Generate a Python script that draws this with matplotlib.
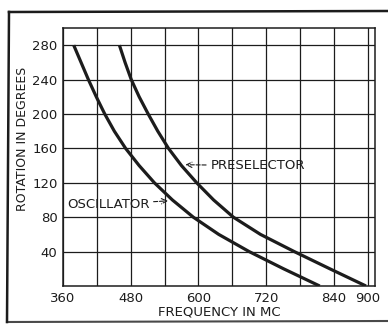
import numpy as np
import matplotlib
matplotlib.use('Agg')
import matplotlib.pyplot as plt
from matplotlib.lines import Line2D

# rotation in degrees, frequency in MC
rotation = [280, 260, 240, 220, 200, 180, 160, 140, 120, 100, 80, 60, 40, 20, 0]
oscillator = [379, 392, 405, 419, 434, 451, 471, 495, 522, 554, 591, 636, 690, 751, 815]
preselector = [460, 470, 481, 495, 511, 528, 547, 570, 597, 627, 662, 710, 770, 833, 897]

xticks = [360, 420, 480, 540, 600, 660, 720, 780, 840, 900]
xlabels = ['360', '', '480', '', '600', '', '720', '', '840', '900']
yticks = [40, 80, 120, 160, 200, 240, 280]

ink = '#1c1c1c'
plt.rcParams['font.family'] = ['DejaVu Sans']

fig = plt.figure(figsize=(3.88, 3.27), dpi=100)
ax = fig.add_axes([63 / 388, 1 - 286 / 327, 312 / 388, 258 / 327])

ax.plot(oscillator, rotation, color=ink, lw=2.3, solid_capstyle='butt',
        solid_joinstyle='round')
ax.plot(preselector, rotation, color=ink, lw=2.3, solid_capstyle='butt',
        solid_joinstyle='round')

ax.set_xlim(360, 913)
ax.set_ylim(0, 300)
ax.set_xticks(xticks)
ax.set_xticklabels(xlabels)
ax.set_yticks(yticks)
ax.tick_params(length=0, labelsize=9.5, colors=ink, pad=4)
ax.grid(True, color=ink, lw=0.9)
for s in ax.spines.values():
    s.set_color(ink)
    s.set_linewidth(1.1)

ax.set_xlabel('FREQUENCY IN MC', fontsize=9.5, color=ink, labelpad=1)
fig.text(23 / 388, 1 - 139 / 327, 'ROTATION IN DEGREES', rotation=90,
         ha='center', va='center', fontsize=9, color=ink)

# callouts
ax.annotate('PRESELECTOR', xy=(577, 141), xytext=(621, 140),
            fontsize=9.5, color=ink, va='center', ha='left',
            arrowprops=dict(arrowstyle='->', ls='--', color=ink, lw=0.8,
                            shrinkA=1, shrinkB=0))
ax.annotate('OSCILLATOR', xy=(546, 99), xytext=(367, 95),
            fontsize=9.5, color=ink, va='center', ha='left',
            arrowprops=dict(arrowstyle='->', ls='--', color=ink, lw=0.8,
                            shrinkA=1, shrinkB=0))

# outer frame of the printed figure
W, H = 388, 327
fig.add_artist(Line2D([9 / W, 1.0], [1 - 12 / H, 1 - 11 / H], color=ink, lw=1.8))
fig.add_artist(Line2D([9 / W, 7 / W], [1 - 12 / H, 1 - 322 / H], color=ink, lw=1.8))
fig.add_artist(Line2D([7 / W, 1.0], [1 - 322 / H, 1 - 321 / H], color=ink, lw=1.5, alpha=0.8))

fig.savefig('out.png', dpi=100)
